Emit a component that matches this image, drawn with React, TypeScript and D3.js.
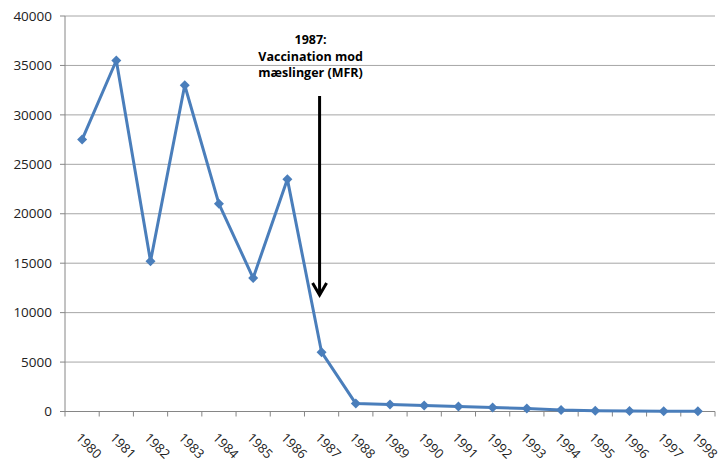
import React from "react";
import * as d3 from "d3";

const years = ["1980","1981","1982","1983","1984","1985","1986","1987","1988","1989","1990","1991","1992","1993","1994","1995","1996","1997","1998"];
const cases = [27500, 35500, 15200, 33000, 21000, 13500, 23500, 6000, 800, 700, 600, 500, 400, 300, 150, 80, 60, 30, 20];
const yTicks = [0, 5000, 10000, 15000, 20000, 25000, 30000, 35000, 40000];
const annotationLines = ["1987:", "Vaccination mod", "mæslinger (MFR)"];
const annotationYear = "1987";

const W = 722, H = 462;
const left = 65, right = 715, top = 16, bottom = 411.5;

export default function App() {
  const x = d3.scaleBand().domain(years).range([left, right]).padding(0);
  const y = d3.scaleLinear().domain([0, 40000]).range([bottom, top]);
  const cx = (d: string) => (x(d) as number) + x.bandwidth() / 2;
  const line = d3.line<number>().x((_, i) => cx(years[i])).y(d => y(d));
  const r = 5;
  const diamond = `M0,${-r}L${r},0L0,${r}L${-r},0Z`;
  const font = "'Open Sans', sans-serif";
  const ax = cx(annotationYear) - 2;
  const boundaries = years.map(d => x(d) as number).concat([right]);

  return (
    <svg width={W} height={H} style={{ position: "absolute", left: 0, top: 0 }} fontFamily={font}>
      <rect width={W} height={H} fill="#fff" />
      {yTicks.map(t => (
        <g key={t}>
          {t > 0 && <line x1={left} x2={right} y1={y(t)} y2={y(t)} stroke="#a6a6a6" strokeWidth={1} />}
          <line x1={left - 5} x2={left} y1={y(t)} y2={y(t)} stroke="#868686" />
          <text x={52} y={y(t)} dy="0.35em" textAnchor="end" fontSize={13.5} fill="#222">{t}</text>
        </g>
      ))}
      <line x1={left} x2={left} y1={top} y2={bottom} stroke="#868686" />
      <line x1={left} x2={right} y1={bottom} y2={bottom} stroke="#868686" />
      {boundaries.map((b, i) => (
        <line key={i} x1={b} x2={b} y1={bottom} y2={bottom + 5} stroke="#868686" />
      ))}
      {years.map(d => (
        <text key={d} transform={`translate(${cx(d) - 7},${bottom + 27}) rotate(45)`} fontSize={13} fill="#222">{d}</text>
      ))}
      <path d={line(cases) as string} fill="none" stroke="#4a7ebb" strokeWidth={3} strokeLinejoin="round" />
      {cases.map((v, i) => (
        <path key={i} d={diamond} transform={`translate(${cx(years[i])},${y(v)})`} fill="#4a7ebb" />
      ))}
      {annotationLines.map((t, i) => (
        <text key={i} x={ax - 9} y={44 + i * 16.5} textAnchor="middle" fontSize={12.5} fontWeight="bold" fill="#000">{t}</text>
      ))}
      <line x1={ax} x2={ax} y1={96} y2={295} stroke="#000" strokeWidth={3} />
      <path d={`M${ax - 7},${283} L${ax},${295} L${ax + 7},${283}`} fill="none" stroke="#000" strokeWidth={3} />
    </svg>
  );
}
